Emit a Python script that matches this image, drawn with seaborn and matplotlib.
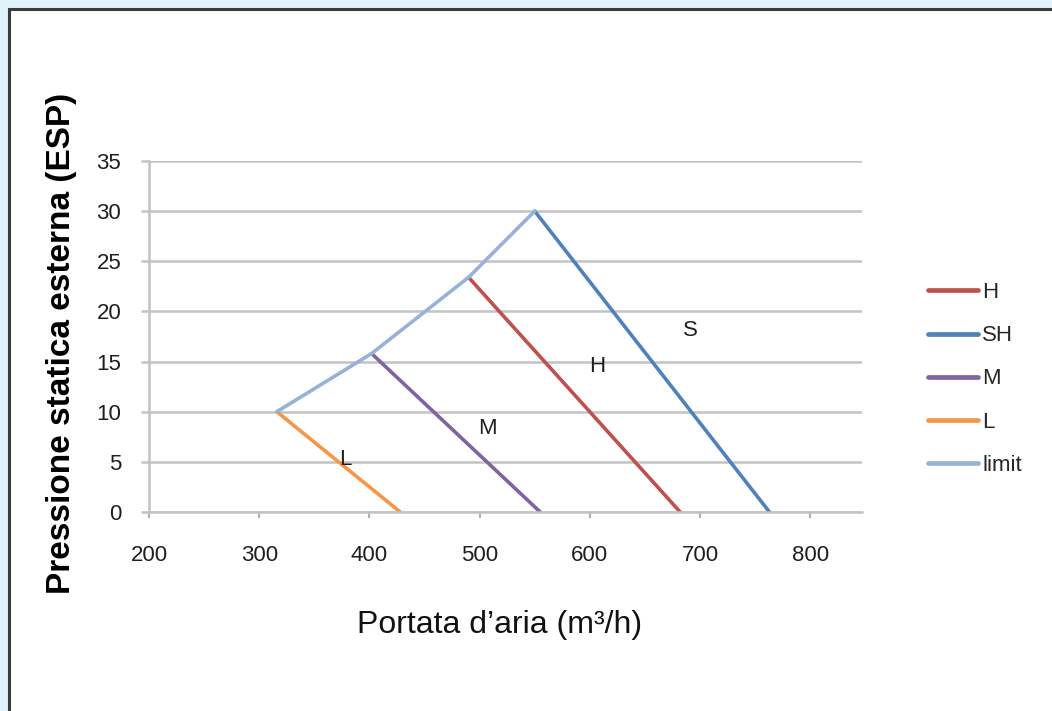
import matplotlib
matplotlib.use("Agg")
import matplotlib.pyplot as plt
from matplotlib.patches import Rectangle
import seaborn as sns
import pandas as pd

# ---- data ----
series_names = ["H", "SH", "M", "L", "limit"]
H_x = [490, 682]
H_y = [23.4, 0]
SH_x = [550, 763]
SH_y = [30, 0]
M_x = [402, 555]
M_y = [15.8, 0]
L_x = [316, 428]
L_y = [10, 0]
limit_x = [316, 402, 490, 550]
limit_y = [10, 15.8, 23.4, 30]

label_text = ["S", "H", "M", "L"]
label_x = [691, 607, 507, 378]
label_y = [18.1, 14.5, 8.3, 5.2]

x_ticks = [200, 300, 400, 500, 600, 700, 800]
y_ticks = [0, 5, 10, 15, 20, 25, 30, 35]

colors = {"H": "#C0504D", "SH": "#4F81BD", "M": "#8064A2",
          "L": "#F79646", "limit": "#95B3D7"}

frames = []
for name, xs, ys in [("H", H_x, H_y), ("SH", SH_x, SH_y), ("M", M_x, M_y),
                     ("L", L_x, L_y), ("limit", limit_x, limit_y)]:
    frames.append(pd.DataFrame({"x": xs, "y": ys, "series": name,
                                "order": range(len(xs))}))
df = pd.concat(frames, ignore_index=True)

sns.set_theme(style="white")
plt.rcParams['font.family'] = ['Liberation Sans', 'DejaVu Sans']

W, Hh = 1052, 711
fig = plt.figure(figsize=(W / 100, Hh / 100), dpi=100)
fig.patch.set_facecolor("#e1f2fa")
fig.add_artist(Rectangle((9 / W, -0.05), 1.1, 1 - 9 / Hh + 0.05,
                         transform=fig.transFigure, facecolor="white",
                         edgecolor="#3c3c3c", lw=2.2, zorder=0))

ax = fig.add_axes([149 / W, 1 - 512 / Hh, (862 - 149) / W, (512 - 161) / Hh])
ax.set_facecolor("none")

sns.lineplot(data=df, x="x", y="y", hue="series", hue_order=series_names,
             palette=colors, units="series", estimator=None, sort=False,
             lw=2.6, ax=ax, legend=True)

ax.set_xlim(200, 847)
ax.set_ylim(0, 35)
ax.set_xticks(x_ticks)
ax.set_yticks(y_ticks)
ax.yaxis.grid(True, color="#c3c3c3", lw=1.8)
ax.xaxis.grid(False)
for s in ["top", "right"]:
    ax.spines[s].set_visible(False)
for s in ["left", "bottom"]:
    ax.spines[s].set_color("#c3c3c3")
    ax.spines[s].set_linewidth(1.8)
ax.tick_params(axis="y", length=6, width=1.8, color="#c3c3c3", pad=14,
               labelsize=16, labelcolor="#1e1e1e", left=True)
ax.tick_params(axis="x", length=4, width=1.5, color="#b0b0b0", pad=20,
               labelsize=16, labelcolor="#1e1e1e", bottom=True, direction="out")

for t, xx, yy in zip(label_text, label_x, label_y):
    ax.text(xx, yy, t, fontsize=16, color="#1e1e1e", ha="center", va="center")

ax.set_xlabel("")
ax.set_ylabel("")
fig.text(500 / W, 1 - 625 / Hh, "Portata d\u2019aria (m\u00b3/h)", fontsize=23,
         ha="center", va="center", color="#111111")
fig.text(62 / W, 1 - 343 / Hh, "Pressione statica esterna (ESP)", fontsize=24,
         fontweight="bold", rotation=90, ha="center", va="center", color="#000000")

handles, labels = ax.get_legend_handles_labels()
leg = ax.legend(handles, labels, loc="center left",
                bbox_to_anchor=(928 / W, 1 - 379 / Hh),
                bbox_transform=fig.transFigure, frameon=False,
                fontsize=16, handlelength=2.25, handletextpad=0.2,
                labelspacing=1.0, borderpad=0, borderaxespad=0)
for h in leg.get_lines():
    h.set_linewidth(3.4)

fig.savefig("out.png", dpi=100, facecolor=fig.get_facecolor())
